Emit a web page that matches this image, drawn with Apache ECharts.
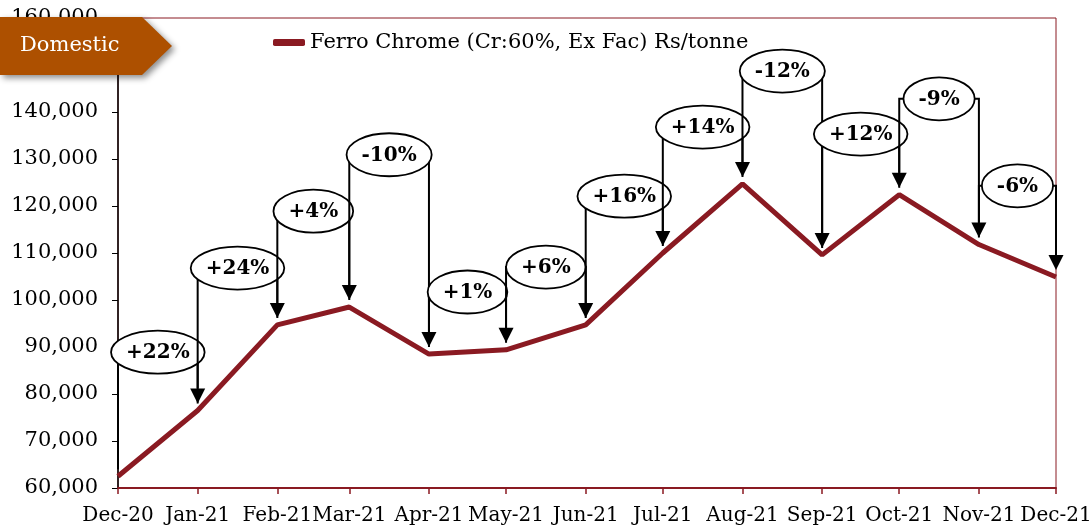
<!DOCTYPE html>
<html>
<head>
  <meta charset="utf-8">
</head>
<body style="margin: 0">
  <div id="container" style="width: 1089px; height: 529px"></div>

  <script type="text/javascript" src="https://cdn.jsdelivr.net/npm/echarts@6/dist/echarts.min.js"></script>
  <script type="text/javascript">
    // data
    var months = ['2020-12', '2021-01', '2021-02', '2021-03', '2021-04', '2021-05', '2021-06',
                  '2021-07', '2021-08', '2021-09', '2021-10', '2021-11', '2021-12'];
    var monthLabels = ['Dec-20', 'Jan-21', 'Feb-21', 'Mar-21', 'Apr-21', 'May-21', 'Jun-21',
                       'Jul-21', 'Aug-21', 'Sep-21', 'Oct-21', 'Nov-21', 'Dec-21'];
    var prices = [62500, 76500, 94700, 98500, 88500, 89400, 94700, 110000, 124700, 109600, 122400, 111800, 104900];
    var changeLabels = ['+22%', '+24%', '+4%', '-10%', '+1%', '+6%', '+16%', '+14%', '-12%', '+12%', '-9%', '-6%'];
    // height (Rs/tonne) of each bracket that carries a change label
    var bracketTops = [88900, 106800, 118900, 130900, 101700, 107000, 122100, 136800, 148700, 135300, 142800, 124300];
    var seriesName = 'Ferro Chrome (Cr:60%, Ex Fac) Rs/tonne';

    var SERIF = '"DejaVu Serif", Georgia, serif';
    var RED = '#8a1a22';

    function toTime(s) {
      var p = s.split('-');
      return new Date(+p[0], +p[1] - 1, 1).getTime();
    }
    var times = months.map(toTime);

    var lineData = prices.map(function (v, i) { return [times[i], v]; });
    var stepData = changeLabels.map(function (l, i) {
      return [times[i], times[i + 1], prices[i], prices[i + 1], bracketTops[i], i];
    });

    var ctx = document.createElement('canvas').getContext('2d');
    var labelFont = 'bold 20px ' + SERIF;
    ctx.font = labelFont;

    var dom = document.getElementById('container');
    var myChart = echarts.init(dom, null, { renderer: 'canvas' });

    var option = {
      animation: false,
      grid: {
        left: 118, right: 33, top: 18, bottom: 41,
        outerBoundsMode: 'none',
        show: true, borderColor: RED, borderWidth: 1
      },
      legend: {
        data: [seriesName],
        left: 268, top: 27,
        icon: 'roundRect',
        itemWidth: 32, itemHeight: 7,
        itemGap: 10,
        textStyle: { fontFamily: SERIF, fontSize: 21, color: '#000' }
      },
      xAxis: {
        type: 'time',
        min: times[0],
        max: times[times.length - 1],
        splitNumber: 12,
        axisLine: { lineStyle: { color: RED, width: 2 } },
        axisTick: { show: true, length: 6, lineStyle: { color: RED, width: 1.5 } },
        splitLine: { show: false },
        axisLabel: {
          margin: 18,
          hideOverlap: false,
          showMinLabel: true,
          showMaxLabel: true,
          fontFamily: SERIF, fontSize: 20, color: '#000',
          formatter: function (val) {
            var d = new Date(val);
            for (var i = 0; i < times.length; i++) {
              var t = new Date(times[i]);
              if (t.getFullYear() === d.getFullYear() && t.getMonth() === d.getMonth()) return monthLabels[i];
            }
            return '';
          }
        }
      },
      yAxis: {
        type: 'value',
        min: 60000, max: 160000, interval: 10000,
        axisLine: { show: true, lineStyle: { color: '#000', width: 1.5 } },
        axisTick: { show: true, length: 6, lineStyle: { color: '#000' } },
        splitLine: { show: false },
        axisLabel: {
          margin: 20,
          fontFamily: SERIF, fontSize: 21, color: '#000',
          formatter: function (v) { return v.toLocaleString('en-US'); }
        }
      },
      series: [
        {
          name: seriesName,
          type: 'line',
          data: lineData,
          symbol: 'none',
          color: RED,
          lineStyle: { color: RED, width: 5 },
          z: 2
        },
        {
          type: 'custom',
          data: stepData,
          encode: { x: [0, 1], y: [2, 3, 4] },
          z: 5,
          silent: true,
          renderItem: function (params, api) {
            var p0 = api.coord([api.value(0), api.value(2)]);
            var p1 = api.coord([api.value(1), api.value(3)]);
            var ty = api.coord([api.value(0), api.value(4)])[1];
            var label = changeLabels[api.value(5)];
            var gap = 7, ah = 15, aw = 7.5;
            var w = ctx.measureText(label).width + 30, h = 43;
            var cx = (p0[0] + p1[0]) / 2;
            return {
              type: 'group',
              children: [
                {
                  type: 'polyline',
                  shape: { points: [[p0[0], p0[1] - gap], [p0[0], ty], [p1[0], ty], [p1[0], p1[1] - gap - ah]] },
                  style: { stroke: '#000', lineWidth: 2, fill: 'none' }
                },
                {
                  type: 'polygon',
                  shape: { points: [[p1[0] - aw, p1[1] - gap - ah], [p1[0] + aw, p1[1] - gap - ah], [p1[0], p1[1] - gap]] },
                  style: { fill: '#000' }
                },
                {
                  type: 'ellipse',
                  shape: { cx: cx, cy: ty, rx: w / 2, ry: h / 2 },
                  style: { fill: '#fff', stroke: '#000', lineWidth: 1.8 }
                },
                {
                  type: 'text',
                  style: {
                    text: label, x: cx, y: ty + 1,
                    align: 'center', verticalAlign: 'middle',
                    font: labelFont, fill: '#000'
                  }
                }
              ]
            };
          }
        }
      ],
      graphic: [
        {
          type: 'polygon',
          z: 100,
          shape: { points: [[0, 17], [142, 17], [172, 46], [142, 75], [0, 75]] },
          style: {
            fill: '#ad5000',
            shadowColor: 'rgba(0,0,0,0.45)', shadowBlur: 6, shadowOffsetX: 3, shadowOffsetY: 3
          }
        },
        {
          type: 'text',
          z: 101,
          left: 20, top: 35,
          style: { text: 'Domestic', font: '21px ' + SERIF, fill: '#fff' }
        }
      ]
    };

    myChart.setOption(option);
    window.addEventListener('resize', myChart.resize);
  </script>
</body>
</html>
